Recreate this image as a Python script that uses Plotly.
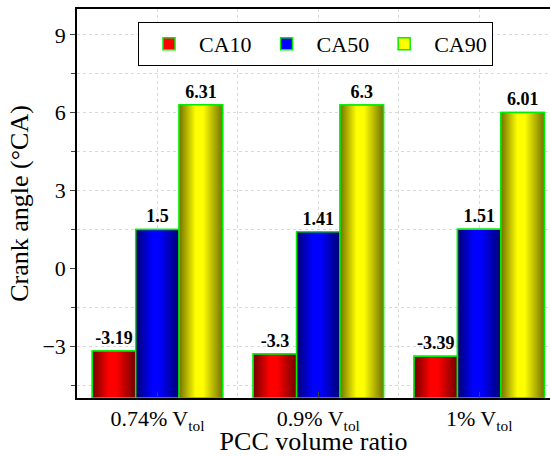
import plotly.graph_objects as go

# ---- data ----
categories = ["0.74% V<sub>tol</sub>", "0.9% V<sub>tol</sub>", "1% V<sub>tol</sub>"]
series_names = ["CA10", "CA50", "CA90"]
ca10 = [-3.19, -3.3, -3.39]
ca50 = [1.5, 1.41, 1.51]
ca90 = [6.31, 6.3, 6.01]
y_min, y_max = -5, 10

# ---- style ----
FONT = "Liberation Serif"
bright = [(255, 0, 0), (0, 0, 255), (255, 255, 0)]
OUTLINE = "#00ee00"
group_w = 0.81
bar_w = group_w / len(series_names)

x = list(range(len(categories)))
values = [ca10, ca50, ca90]


def rgb(c, f=1.0):
    return "rgb(%d,%d,%d)" % tuple(int(v * f) for v in c)


fig = go.Figure()
# bars (legend entries + value labels); bars start at the bottom of the axis
for si, (name, vals) in enumerate(zip(series_names, values)):
    off0 = -group_w / 2 + si * bar_w
    lengths = [v - y_min for v in vals]
    fig.add_trace(go.Bar(
        x=x, y=lengths, base=y_min, name=name, width=bar_w, offset=off0,
        marker=dict(color=rgb(bright[si]), line=dict(color=OUTLINE, width=1.5)),
        text=[str(v) for v in vals], textposition="outside", cliponaxis=False,
        textfont=dict(family=FONT, size=18, color="black", weight="bold")))

# horizontal gradient shading drawn over each bar's own extent
for si, (name, vals) in enumerate(zip(series_names, values)):
    off0 = -group_w / 2 + si * bar_w
    dark = rgb(bright[si], 0.45)
    mid = rgb(bright[si])
    for xi, v in zip(x, vals):
        x0, x1 = xi + off0, xi + off0 + bar_w
        fig.add_trace(go.Scatter(
            x=[x0, x0, x1, x1, x0], y=[y_min, v, v, y_min, y_min],
            mode="lines", fill="toself",
            fillgradient=dict(type="horizontal",
                              colorscale=[[0, dark], [0.38, mid], [0.55, mid], [1, dark]]),
            line=dict(color=OUTLINE, width=1.5), showlegend=False))

grid = dict(gridcolor="#d9d9d9", griddash="dot", gridwidth=1)

fig.update_layout(
    width=550, height=456, margin=dict(l=77, r=0, t=9, b=58), barmode="overlay",
    plot_bgcolor="white", paper_bgcolor="white",
    font=dict(family=FONT, size=22, color="black"),
    legend=dict(orientation="h", x=0.129, y=0.967, xanchor="left", yanchor="top",
                bgcolor="white", bordercolor="black", borderwidth=1, itemwidth=50),
    xaxis=dict(range=[-0.5, 2.44], tickmode="linear", tick0=0, dtick=1,
               labelalias={str(i): c for i, c in enumerate(categories)},
               showline=True, linecolor="black", linewidth=1.5, mirror=True,
               ticks="inside", ticklen=6, showgrid=True, **grid,
               minor=dict(dtick=0.5, tick0=0, showgrid=True, ticks="", **grid),
               title=dict(text="PCC volume ratio", standoff=2)),
    yaxis=dict(range=[y_min, y_max], tickmode="linear", tick0=0, dtick=3,
               showline=True, linecolor="black", linewidth=1.5, ticks="outside", ticklen=5,
               showgrid=True, **grid,
               minor=dict(dtick=1.5, tick0=0, showgrid=True, ticks="outside", ticklen=4, **grid),
               title=dict(text="Crank angle (°CA)", standoff=6)),
)

fig.write_html("out.html")
